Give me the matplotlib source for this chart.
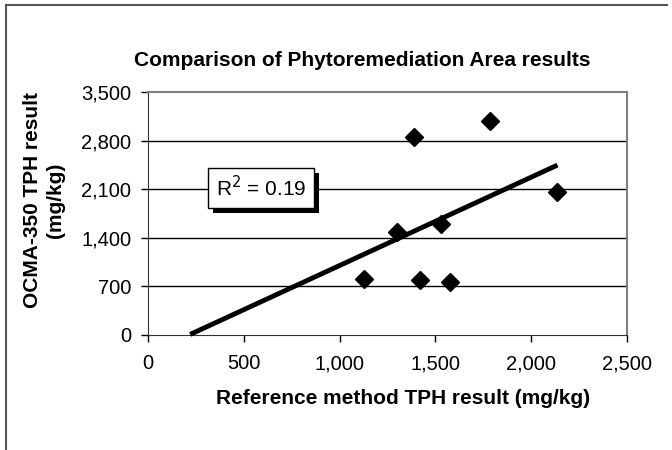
import numpy as np
import matplotlib
matplotlib.use("Agg")
import matplotlib.pyplot as plt
from matplotlib.ticker import FuncFormatter, MultipleLocator
from matplotlib.patches import Rectangle
from matplotlib.lines import Line2D

plt.rcParams['font.family'] = ['Liberation Sans', 'DejaVu Sans']

# reference method vs OCMA-350 TPH results (mg/kg)
ref_tph = [1128, 1297, 1388, 1419, 1529, 1578, 1785, 2137]
ocma_tph = [805, 1489, 2845, 790, 1595, 770, 3079, 2055]
trend_start = 220

title = "Comparison of Phytoremediation Area results"
xlabel = "Reference method TPH result (mg/kg)"
ylabel = "OCMA-350 TPH result\n(mg/kg)"

x = np.array(ref_tph, dtype=float)
y = np.array(ocma_tph, dtype=float)
slope, intercept = np.polyfit(x, y, 1)
r2 = np.corrcoef(x, y)[0, 1] ** 2
xt = np.array([trend_start, x.max()])

fig = plt.figure(figsize=(6.72, 4.5), dpi=100)
ax = fig.add_axes([148 / 672, 1 - 335 / 450, 479 / 672, 243 / 450])

ax.set_xlim(0, 2500)
ax.set_ylim(0, 3500)
ax.xaxis.set_major_locator(MultipleLocator(500))
ax.yaxis.set_major_locator(MultipleLocator(700))
fmt = FuncFormatter(lambda v, p: f"{v:,.0f}")
ax.xaxis.set_major_formatter(fmt)
ax.yaxis.set_major_formatter(fmt)
ax.tick_params(direction='out', length=5, width=1, color='black',
               labelsize=14.5)
ax.tick_params(axis='x', pad=9)
ax.tick_params(axis='y', pad=7)

for yv in [700, 1400, 2100, 2800]:
    ax.axhline(yv, color='black', lw=1, zorder=1)

ax.spines['top'].set_color('#808080')
ax.spines['right'].set_color('#808080')
ax.spines['top'].set_linewidth(1.5)
ax.spines['right'].set_linewidth(1.5)
ax.spines['left'].set_color('#333333')
ax.spines['bottom'].set_color('#333333')

ax.plot(xt, slope * xt + intercept, color='black', lw=3.5, zorder=3,
        clip_on=False, solid_capstyle='butt')
ax.plot(x, y, linestyle='none', marker='D', markersize=9,
        color='black', zorder=4)

# R^2 label with drop shadow
label = "R$^2$ = %.2f" % r2
txt = ax.text(0.2357, 0.6058, label, transform=ax.transAxes, fontsize=15,
              color='black', ha='center', va='center', zorder=6,
              bbox=dict(boxstyle='square,pad=0.35', fc='white', ec='black', lw=1))
fig.canvas.draw()
bb = txt.get_bbox_patch().get_window_extent(fig.canvas.get_renderer())
bb = bb.transformed(fig.transFigure.inverted())
dx, dy = 5 / 672, 5 / 450
ax.add_artist(Rectangle((bb.x0 + dx, bb.y0 - dy), bb.width, bb.height,
                        transform=fig.transFigure, fc='black', ec='none',
                        zorder=5))

fig.text(362 / 672, 1 - 60 / 450, title, fontsize=15, fontweight='bold',
         ha='center', va='center')
fig.text(403 / 672, 1 - 399 / 450, xlabel, fontsize=15, fontweight='bold',
         ha='center', va='center')
fig.text(44 / 672, 1 - 200 / 450, ylabel, fontsize=15, fontweight='bold',
         ha='center', va='center', rotation=90, multialignment='center')

# outer frame
fig.add_artist(Line2D([6 / 672, 6 / 672], [0, 1 - 5 / 450],
                      transform=fig.transFigure, color='#555555', lw=1.5))
fig.add_artist(Line2D([6 / 672, 667 / 672], [1 - 5 / 450, 1 - 5 / 450],
                      transform=fig.transFigure, color='#555555', lw=1.5))

fig.savefig("out.png", dpi=100)
